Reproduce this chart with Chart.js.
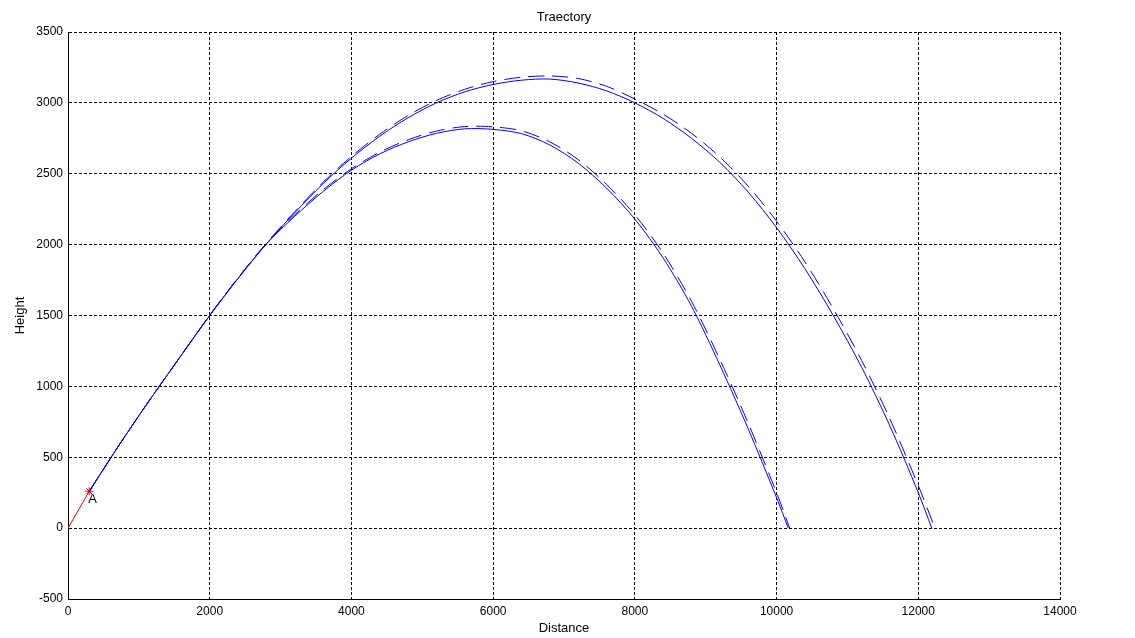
<!DOCTYPE html>
<html><head><meta charset="utf-8">
<script src="https://cdn.jsdelivr.net/npm/chart.js@4/dist/chart.umd.min.js"></script>
<style>html,body{margin:0;padding:0;background:#fff}#wrap{width:1135px;height:638px}</style>
</head><body><div id="wrap"><canvas id="c" width="1135" height="638"></canvas></div>
<script>
const chartTitle = 'Traectory';
const xTicks = [0,2000,4000,6000,8000,10000,12000,14000];
const yTicks = [-500,0,500,1000,1500,2000,2500,3000,3500];

const upperSolidX = [300,700,1100,1500,2000,2400,2800,3200,3600,4000,4400,4800,5200,5600,6000,6400,6800,7200,7600,8000,8400,8800,9200,9600,10000,10400,10800,11200,11600,12000,12190];
const upperSolidY = [260,570,866,1150,1500,1762,2005,2225,2430,2610,2765,2895,3000,3078,3130,3160,3168,3140,3085,3000,2890,2750,2580,2370,2120,1830,1500,1135,720,250,0];

const upperDashX = [300,700,1100,1500,2000,2400,2800,3200,3600,4000,4400,4800,5200,5600,6000,6400,6800,7200,7600,8000,8400,8800,9200,9600,10000,10400,10800,11200,11600,12000,12235];
const upperDashY = [260,570,866,1150,1502,1765,2010,2232,2440,2622,2779,2911,3017,3096,3150,3181,3190,3172,3117,3027,2920,2785,2618,2412,2165,1878,1548,1183,770,300,0];

const lowerSolidX = [300,700,1100,1500,2000,2400,2800,3200,3600,4000,4400,4800,5200,5600,6000,6400,6800,7200,7600,8000,8400,8800,9200,9600,10000,10165];
const lowerSolidY = [260,570,866,1150,1500,1762,2005,2200,2375,2525,2640,2725,2785,2817,2813,2783,2703,2575,2399,2180,1905,1565,1150,700,215,0];

const lowerDashX = [300,700,1100,1500,2000,2400,2800,3200,3600,4000,4400,4800,5200,5600,6000,6400,6800,7200,7600,8000,8400,8800,9200,9600,10000,10185];
const lowerDashY = [260,570,866,1150,1502,1765,2008,2210,2387,2535,2652,2740,2801,2833,2831,2803,2725,2600,2425,2210,1938,1600,1190,740,250,0];

const launchX = [0,300];
const launchY = [0,260];
const pointAX = [300];
const pointAY = [260];
const pointALabel = ['A'];

const pts = (xs, ys) => xs.map((x, i) => ({x: x, y: ys[i]}));
const FONT = '"Liberation Sans", Arial, Helvetica, sans-serif';

const curve = (xs, ys, dashed) => ({
  data: pts(xs, ys), showLine: true, borderColor: '#0000ff', borderWidth: 1,
  borderDash: dashed ? [16, 8] : [], pointRadius: 0, fill: false, tension: 0.3
});

const textPlugin = {
  id: 'texts',
  afterDraw(chart) {
    const ctx = chart.ctx, xs = chart.scales.x, ys = chart.scales.y, ca = chart.chartArea;
    ctx.save();
    ctx.fillStyle = '#000';
    ctx.font = '13px ' + FONT;
    ctx.textAlign = 'center';
    ctx.textBaseline = 'middle';
    ctx.fillText(chartTitle, (ca.left + ca.right) / 2, 17);
    ctx.textAlign = 'left';
    ctx.textBaseline = 'top';
    pointAX.forEach((x, i) => {
      ctx.fillText(pointALabel[i], xs.getPixelForValue(x) - 1, ys.getPixelForValue(pointAY[i]) + 2);
    });
    ctx.restore();
  }
};

new Chart(document.getElementById('c'), {
  type: 'scatter',
  data: {
    datasets: [
      {data: pts(launchX, launchY), showLine: true, borderColor: '#ff0000', borderWidth: 1, pointRadius: 0},
      curve(upperSolidX, upperSolidY, false),
      curve(upperDashX, upperDashY, true),
      curve(lowerSolidX, lowerSolidY, false),
      curve(lowerDashX, lowerDashY, true),
      {data: pts(pointAX, pointAY), showLine: false, pointStyle: 'star', pointRadius: 4,
       borderColor: '#ff0000', backgroundColor: '#ff0000', pointBorderWidth: 1, borderWidth: 1}
    ]
  },
  options: {
    responsive: false,
    animation: false,
    devicePixelRatio: 1,
    layout: {padding: {left: 0, right: 75, top: 32, bottom: 0}},
    plugins: {
      legend: {display: false},
      tooltip: {enabled: false},
      title: {display: false}
    },
    scales: {
      x: {
        type: 'linear', min: 0, max: 14000,
        afterBuildTicks: s => { s.ticks = xTicks.map(v => ({value: v})); },
        afterFit: s => { s.height = 39; },
        ticks: {color: '#000', font: {family: FONT, size: 12}, padding: 5, maxRotation: 0, callback: v => String(v)},
        grid: {color: '#000', lineWidth: 1, drawTicks: false},
        border: {display: true, color: '#000', width: 1, dash: [3, 2]},
        title: {display: true, text: 'Distance', color: '#000', font: {family: FONT, size: 13}, padding: {top: 0, bottom: 2}}
      },
      y: {
        type: 'linear', min: -500, max: 3500,
        afterBuildTicks: s => { s.ticks = yTicks.map(v => ({value: v})); },
        afterFit: s => { s.width = 68; },
        ticks: {color: '#000', font: {family: FONT, size: 12}, padding: 5, callback: v => String(v)},
        grid: {color: '#000', lineWidth: 1, drawTicks: false},
        border: {display: true, color: '#000', width: 1, dash: [3, 2]},
        title: {display: true, text: 'Height', color: '#000', font: {family: FONT, size: 13}, padding: {top: 13, bottom: 0}}
      }
    }
  },
  plugins: [textPlugin]
});
</script></body></html>
